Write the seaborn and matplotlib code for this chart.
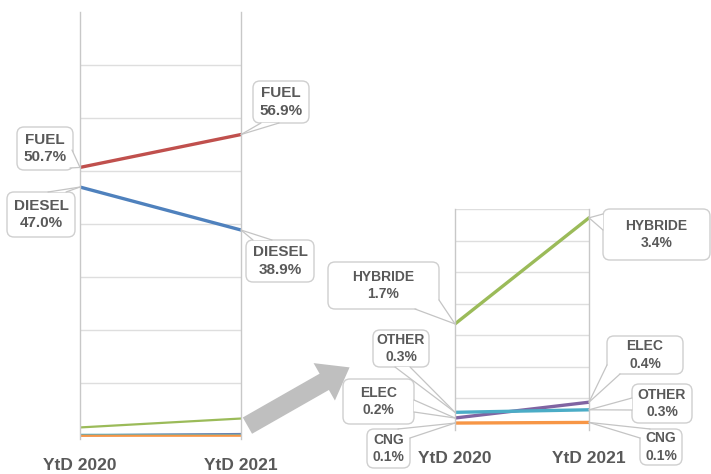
import matplotlib
matplotlib.use('Agg')
import matplotlib.pyplot as plt
import numpy as np
import pandas as pd
import seaborn as sns
from matplotlib.lines import Line2D
from matplotlib.patches import FancyBboxPatch, Polygon, FancyArrowPatch
from matplotlib.transforms import IdentityTransform

# Data
fuel_types = ['FUEL', 'DIESEL', 'HYBRIDE', 'ELEC', 'OTHER', 'CNG']
periods = ['YtD 2020', 'YtD 2021']
share_2020 = [50.7, 47.0, 1.68, 0.19, 0.28, 0.11]
share_2021 = [56.9, 38.9, 3.36, 0.44, 0.32, 0.12]
colors = ['#c0504d', '#4f81bd', '#9bbb59', '#8064a2', '#4bacc6', '#f79646']

df = pd.DataFrame({
    'type': fuel_types * 2,
    'period': [periods[0]] * 6 + [periods[1]] * 6,
    'share': share_2020 + share_2021,
})
df['x'] = df['period'].map({p: i for i, p in enumerate(periods)})
palette = dict(zip(fuel_types, colors))

sns.set_theme(style='white')
plt.rcParams['font.family'] = ['Liberation Sans', 'DejaVu Sans']
TXT = '#595959'
W, H = 711, 474

fig = plt.figure(figsize=(W / 100, H / 100), dpi=100)


def rect(x0, y0, x1, y1):
    return [x0 / W, (H - y1) / H, (x1 - x0) / W, (y1 - y0) / H]


def style_axes(ax, ylim, yticks, pad):
    ax.set_xlim(0, 1)
    ax.set_ylim(*ylim)
    ax.set_yticks(yticks)
    ax.set_xticks([0, 1])
    ax.set_xticklabels(periods, fontsize=12.5, fontweight='bold', color=TXT)
    ax.tick_params(axis='x', length=0, pad=pad)
    ax.tick_params(axis='y', length=0, labelleft=False)
    ax.grid(axis='y', color='#dedede', lw=1)
    ax.set_xlabel('')
    ax.set_ylabel('')
    for s in ['top', 'bottom']:
        ax.spines[s].set_visible(False)
    for s in ['left', 'right']:
        ax.spines[s].set_color('#c8c8c8')
        ax.spines[s].set_linewidth(1)


# Left panel: all types
ax1 = fig.add_axes(rect(80, 12, 241, 439))
big = df[df['type'].isin(['FUEL', 'DIESEL'])]
small = df[~df['type'].isin(['FUEL', 'DIESEL'])]
sns.lineplot(data=small, x='x', y='share', hue='type', palette=palette, ax=ax1,
             legend=False, linewidth=1.6)
sns.lineplot(data=big, x='x', y='share', hue='type', palette=palette, ax=ax1,
             legend=False, linewidth=2.4)
style_axes(ax1, (-0.5, 80), np.arange(10, 80, 10), 14)

# Right panel: zoom on the small shares
ax2 = fig.add_axes(rect(455, 209, 589, 430))
sns.lineplot(data=small, x='x', y='share', hue='type', palette=palette, ax=ax2,
             legend=False, linewidth=2.4)
style_axes(ax2, (0, 3.5), np.arange(0.5, 3.6, 0.5), 15)

# Callout layout: (axes, type, period index, box, tail base points, font size)
callouts = [
    (ax1, 'FUEL', 0, (17, 127, 73, 170), [(72, 150), (70, 168)], 11),
    (ax1, 'DIESEL', 0, (7, 192, 75, 237), [(48, 192), (66, 192)], 11),
    (ax1, 'FUEL', 1, (253, 81, 309, 123), [(261, 123), (279, 123)], 11),
    (ax1, 'DIESEL', 1, (246, 240, 314, 282), [(253, 240), (272, 240)], 11),
    (ax2, 'HYBRIDE', 0, (328, 262, 439, 309), [(415, 309), (439, 300)], 10),
    (ax2, 'HYBRIDE', 1, (603, 209, 710, 260), [(603, 214), (603, 230)], 10),
    (ax2, 'OTHER', 0, (373, 330, 429, 367), [(395, 367), (410, 367)], 10),
    (ax2, 'ELEC', 0, (343, 379, 414, 424), [(414, 400), (414, 412)], 10),
    (ax2, 'CNG', 0, (367, 429, 410, 468), [(398, 429), (410, 438)], 10),
    (ax2, 'ELEC', 1, (607, 336, 683, 374), [(607, 365), (620, 374)], 10),
    (ax2, 'OTHER', 1, (632, 384, 692, 423), [(632, 398), (632, 410)], 10),
    (ax2, 'CNG', 1, (640, 429, 682, 465), [(640, 438), (650, 429)], 10),
]

ident = IdentityTransform()
for ax, name, pi, (x0, y0, x1, y1), base, fs in callouts:
    i = fuel_types.index(name)
    val = [share_2020, share_2021][pi][i]
    px, py = ax.transData.transform((pi, val))
    box = FancyBboxPatch((x0, H - y1), x1 - x0, y1 - y0,
                         boxstyle='round,pad=0,rounding_size=7',
                         fc='white', ec='#cfcfcf', lw=1, transform=ident, zorder=5)
    fig.add_artist(box)
    pts = [(bx, H - by) for bx, by in base]
    fig.add_artist(Polygon(pts + [(px, py)], closed=True, fc='white', ec='none',
                           transform=ident, zorder=6))
    for bx, by in pts:
        fig.add_artist(Line2D([bx, px], [by, py], color='#c4c4c4', lw=0.9,
                              transform=ident, zorder=6))
    fig.text((x0 + x1) / 2 / W, 1 - (y0 + y1) / 2 / H, f'{name}\n{val:.1f}%',
             ha='center', va='center', fontsize=fs, fontweight='bold',
             color=TXT, linespacing=1.3, zorder=7)

# Big grey arrow between panels
arrow = FancyArrowPatch((245 / W, 1 - 427 / H), (352 / W, 1 - 366 / H),
                        transform=fig.transFigure,
                        arrowstyle='simple,head_width=3.1,head_length=2.1,tail_width=1.35',
                        mutation_scale=10, fc='#bfbfbf', ec='none', zorder=4)
fig.add_artist(arrow)

fig.savefig('out.png', dpi=100, facecolor='white')
